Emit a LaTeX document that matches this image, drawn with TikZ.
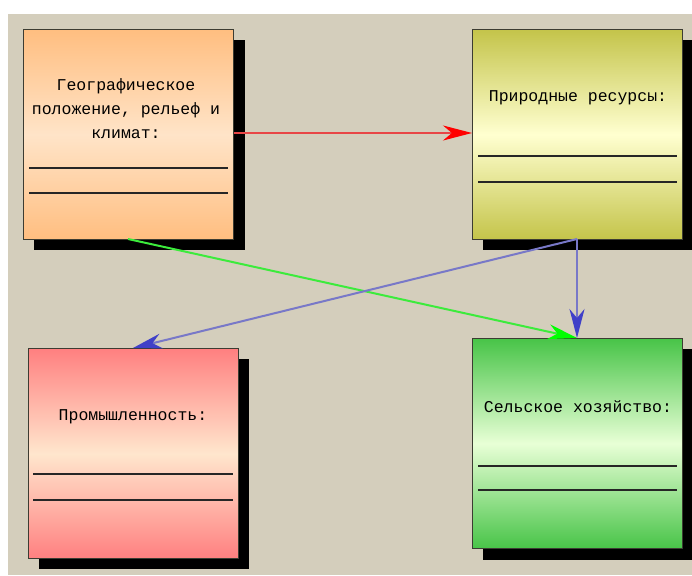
\documentclass[tikz,border=0pt]{standalone}
\usepackage{fontspec}
\setmonofont{Liberation Mono}
\usetikzlibrary{arrows.meta}
\definecolor{bgbeige}{RGB}{212,206,188}
\definecolor{edgegray}{RGB}{60,60,50}
\definecolor{orT}{RGB}{255,190,128}
\definecolor{orM}{RGB}{255,228,200}
\definecolor{yeT}{RGB}{196,196,74}
\definecolor{yeM}{RGB}{255,255,208}
\definecolor{pkT}{RGB}{255,128,128}
\definecolor{pkM}{RGB}{255,230,205}
\definecolor{grT}{RGB}{72,196,72}
\definecolor{grM}{RGB}{232,255,214}
\definecolor{connred}{RGB}{232,70,70}
\definecolor{connhead}{RGB}{255,0,0}
\definecolor{greenline}{RGB}{60,235,60}
\definecolor{blueline}{RGB}{120,120,200}
\definecolor{bluehead}{RGB}{64,64,200}
\tikzset{
  panel/.style={draw=edgegray, line width=1.2pt, minimum width=210pt, minimum height=210pt, inner sep=0pt},
  shadowbox/.style={fill=black, draw=none},
  caption/.style={font=\ttfamily\fontsize{16.5}{24}\selectfont, align=center, inner sep=0pt},
  rule/.style={draw=black!85, line width=1.4pt},
  conn/.style={line width=2pt},
  headin/.style={-{Stealth[length=29pt, width=15pt, inset=9pt, color=#1, fill=#1]}}
}
\begin{document}
\begin{tikzpicture}[x=1pt, y=-1pt]
\useasboundingbox (0,0) rectangle (692,575);
\fill[white] (0,0) rectangle (692,575);
\fill[bgbeige] (8,14) rectangle (692,575);
% shadows
\fill[shadowbox] (34,40) rectangle (245,250);
\fill[shadowbox] (483,40) rectangle (692,250);
\fill[shadowbox] (39,359) rectangle (249,569);
\fill[shadowbox] (483,349) rectangle (692,560);
% panels
\node[panel, top color=orT, bottom color=orT, middle color=orM, anchor=north west] (geo) at (23,29) {};
\node[panel, top color=yeT, bottom color=yeT, middle color=yeM, anchor=north west] (res) at (472,29) {};
\node[panel, top color=pkT, bottom color=pkT, middle color=pkM, anchor=north west] (ind) at (28,348) {};
\node[panel, top color=grT, bottom color=grT, middle color=grM, anchor=north west] (agr) at (472,338) {};
% captions
\node[caption] (geotext) at (126,109) {Географическое\\положение, рельеф и\\климат:};
\node[caption] (restext) at (578,98) {Природные ресурсы:};
\node[caption] (indtext) at (133,417) {Промышленность:};
\node[caption] (agrtext) at (578,407) {Сельское хозяйство:};
% rules
\draw[rule] (29,168) -- (228,168);
\draw[rule] (29,193) -- (228,193);
\draw[rule] (478,156) -- (677,156);
\draw[rule] (478,182) -- (677,182);
\draw[rule] (33,474) -- (233,474);
\draw[rule] (33,500) -- (233,500);
\draw[rule] (478,466) -- (677,466);
\draw[rule] (478,490) -- (677,490);
% connector end points
\coordinate (geoR) at (234,133);
\coordinate (resL) at (472,133);
\coordinate (geoB) at (128,239);
\coordinate (resB) at (577,239);
\coordinate (agrT) at (577,338);
\coordinate (indT) at (133,348);
% connectors
\draw[conn, color=connred, headin=connhead] (geoR) -- (resL);
\draw[conn, color=greenline, headin=green] (geoB) -- (agrT);
\draw[conn, color=blueline, headin=bluehead] (resB) -- (agrT);
\draw[conn, color=blueline, headin=bluehead] (resB) -- (indT);
\end{tikzpicture}
\end{document}
